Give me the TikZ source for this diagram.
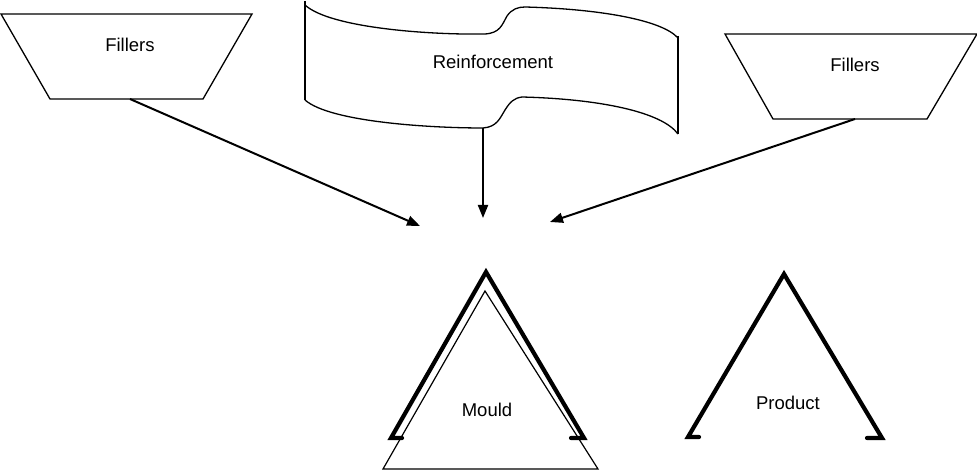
\documentclass[tikz,border=0pt]{standalone}
\usepackage{fontspec}
\setmainfont{Liberation Sans}
\usetikzlibrary{arrows.meta}
\begin{document}
\begin{tikzpicture}[x=1pt,y=-1pt,
  thinline/.style={draw=black,line width=1.3pt,line join=miter},
  thickline/.style={draw=black,line width=4.2pt,line join=miter,line cap=round},
  flow/.style={draw=black,line width=2pt,-{Triangle[length=13pt,width=10pt]}},
  lbl/.style={font=\fontsize{18.5}{20}\selectfont,inner sep=0pt}]
\useasboundingbox (0,0) rectangle (977,473);
% left fillers hopper
\draw[thinline] (1,14) -- (252,14) -- (203,99) -- (50,99) -- cycle;
\node[lbl] (fill1) at (130,45) {Fillers};
% reinforcement banner
\draw[thinline] (305,1) -- (305,100);
\draw[thinline] (305,5) .. controls (330,28) and (430,35) .. (485,34)
  .. controls (500,33) and (502,25) .. (507,16)
  .. controls (512,9) and (518,7) .. (525,7)
  .. controls (600,9) and (662,20) .. (678,38);
\draw[thinline] (678,36) -- (678,134);
\draw[thinline] (305,100) .. controls (330,122) and (430,128) .. (483,128)
  .. controls (497,127) and (500,118) .. (505,110)
  .. controls (510,102) and (514,98) .. (522,97)
  .. controls (600,99) and (662,112) .. (678,134);
\node[lbl] (reinf) at (493,62) {Reinforcement};
% right fillers hopper
\draw[thinline] (725,34) -- (977,34) -- (927,119) -- (773,119) -- cycle;
\node[lbl] (fill2) at (855,65) {Fillers};
% mould
\draw[line width=1.2pt] (485,291) -- (383,469) -- (598,469) -- cycle;
\draw[thickline] (402,438) -- (391,438) -- (486,272) -- (584,438) -- (571,438);
\node[lbl] (mould) at (487,410) {Mould};
% product
\draw[thickline] (699,437) -- (688,437) -- (784,274) -- (882,438) -- (867,438);
\node[lbl] (product) at (788,403) {Product};
% connectors
\coordinate (f1out) at (130,99);
\coordinate (rout) at (483,128);
\coordinate (f2out) at (855,119);
\coordinate (t1) at (420,226);
\coordinate (t2) at (483,218);
\coordinate (t3) at (550,222);
\draw[flow] (f1out) -- (t1);
\draw[flow] (rout) -- (t2);
\draw[flow] (f2out) -- (t3);
\end{tikzpicture}
\end{document}
